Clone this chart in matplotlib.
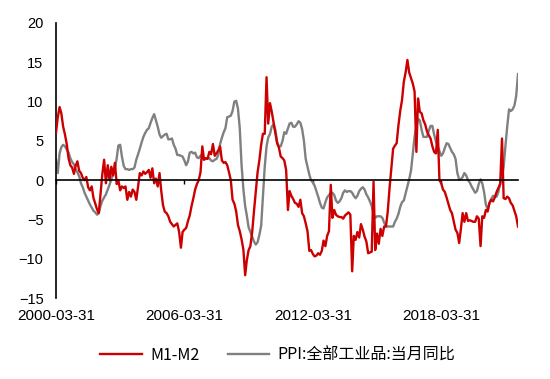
import matplotlib
matplotlib.use("Agg")
import matplotlib.pyplot as plt
import pandas as pd

start_date = "2000-03-31"
n_months = 260

m1_m2 = [
    6.0, 8.0, 9.3, 8.5, 6.8, 5.8, 4.6, 2.8, 1.9, 1.6, 0.8, 1.8,
    2.4, 1.2, 0.9, 0.3, 0.0, 0.4, -0.9, -1.3, -0.8, -2.3, -3.0, -3.7,
    -4.2, -1.8, 0.8, 2.6, -0.4, 1.9, 0.0, 1.7, 0.6, 2.2, -0.5, 0.0,
    -1.3, -0.8, -1.0, -0.8, -2.5, -1.5, -2.1, -1.2, -1.5, -2.5, -0.8, 0.9,
    0.6, 1.1, 0.8, 1.0, 1.3, 0.3, 1.5, -0.4, 0.2, -0.8, 0.9, -1.3,
    -3.2, -4.0, -4.2, -4.6, -5.3, -5.6, -5.9, -5.7, -5.5, -6.6, -8.6, -6.6,
    -6.3, -6.1, -5.2, -4.5, -3.3, -2.3, -1.2, -0.5, 0.0, 1.0, 4.3, 2.6,
    2.8, 2.7, 3.6, 3.3, 4.6, 3.1, 3.4, 3.8, 4.3, 2.5, 2.2, 2.3,
    1.9, 1.0, 0.0, -2.5, -3.0, -4.0, -5.7, -6.5, -7.5, -8.8, -12.1, -10.2,
    -8.9, -8.4, -6.6, -4.0, -1.5, 1.0, 2.5, 4.5, 5.9, 5.9, 13.1, 7.2,
    9.8, 8.7, 7.3, 6.0, 4.7, 4.1, 3.0, 2.8, 2.5, 1.3, -3.8, -1.4,
    -2.0, -2.4, -2.9, -3.0, -3.4, -2.5, -4.2, -4.6, -5.5, -6.5, -9.0, -8.9,
    -9.4, -9.7, -9.6, -9.3, -9.5, -9.0, -7.7, -8.4, -7.1, -6.5, -0.6, -4.8,
    -3.8, -4.4, -4.6, -4.7, -4.7, -4.9, -4.5, -4.3, -4.1, -4.4, -11.6, -7.1,
    -7.6, -6.6, -7.3, -5.6, -6.3, -7.2, -7.8, -9.3, -9.2, -9.1, -0.2, -8.9,
    -6.8, -8.1, -6.2, -7.1, -5.9, -5.9, -4.0, -1.0, 1.5, 4.0, 4.4, 4.7,
    7.0, 8.8, 10.2, 12.5, 13.7, 15.3, 13.7, 13.0, 12.3, 11.3, 3.6, 10.4,
    8.7, 8.5, 7.6, 7.1, 6.2, 5.7, 5.3, 4.3, 3.6, 3.4, 6.4, 0.0,
    -0.4, -1.2, -1.5, -2.2, -3.0, -3.8, -4.2, -5.3, -6.3, -6.7, -8.0, -6.3,
    -4.2, -5.3, -4.2, -5.2, -5.1, -5.2, -5.3, -5.3, -4.6, -4.9, -8.4, -4.6,
    -4.8, -3.8, -4.0, -2.9, -2.5, -2.7, -2.2, -1.5, -1.0, -0.5, 5.3, -2.3,
    -2.4, -2.1, -2.3, -2.9, -3.2, -3.9, -4.6, -5.9,
]

ppi = [
    2.6, 0.9, 3.4, 4.2, 4.5, 4.3, 3.9, 3.5, 2.8, 2.3, 2.0, 1.4,
    1.0, 0.5, -0.4, -0.9, -1.6, -2.1, -2.6, -3.1, -3.5, -3.9, -4.1, -4.4,
    -4.2, -3.3, -2.6, -2.2, -1.8, -1.2, -0.6, 0.1, 0.8, 1.4, 2.8, 4.4,
    4.5, 3.0, 1.8, 1.4, 1.4, 1.3, 1.4, 1.4, 1.6, 2.6, 3.3, 4.0,
    4.8, 5.5, 6.0, 6.4, 6.6, 7.3, 7.9, 8.4, 7.6, 6.8, 5.8, 5.4,
    5.6, 5.8, 5.9, 5.2, 5.2, 5.3, 4.5, 4.0, 3.2, 3.2, 3.1, 3.0,
    2.5, 1.9, 2.4, 3.5, 3.6, 3.4, 3.5, 2.9, 2.8, 3.1, 3.3, 2.6,
    2.7, 2.8, 2.8, 2.5, 2.4, 2.6, 2.7, 3.2, 4.6, 5.4, 6.1, 6.6,
    8.0, 8.1, 8.2, 8.8, 10.0, 10.1, 9.1, 6.6, 2.0, -1.1, -3.3, -4.5,
    -6.0, -6.6, -7.2, -7.8, -8.2, -7.9, -7.0, -5.8, -2.1, 1.7, 4.3, 5.4,
    5.9, 6.8, 7.1, 6.4, 4.8, 4.3, 4.3, 5.0, 6.1, 5.9, 6.6, 7.2,
    7.3, 6.8, 6.8, 7.1, 7.5, 7.3, 6.5, 5.0, 2.7, 1.7, 0.7, 0.0,
    -0.3, -0.7, -1.4, -2.1, -2.9, -3.5, -3.6, -2.8, -2.2, -1.9, -1.6, -1.6,
    -1.9, -2.6, -2.9, -2.7, -2.3, -1.6, -1.3, -1.5, -1.4, -1.4, -1.6, -2.0,
    -2.3, -2.0, -1.4, -1.1, -0.9, -1.2, -1.8, -2.2, -2.7, -3.3, -4.3, -4.8,
    -4.6, -4.6, -4.6, -4.8, -5.4, -5.9, -5.9, -5.9, -5.9, -5.9, -5.3, -4.9,
    -4.3, -3.4, -2.8, -2.6, -1.7, -0.8, 0.1, 1.2, 3.3, 5.5, 6.9, 7.8,
    7.6, 6.4, 5.5, 5.5, 5.5, 6.3, 6.9, 6.9, 5.8, 4.9, 4.3, 3.7,
    3.1, 3.4, 4.1, 4.7, 4.6, 4.1, 3.6, 3.3, 2.7, 0.9, 0.1, 0.1,
    0.4, 0.9, 0.6, 0.0, -0.3, -0.8, -1.2, -1.6, -1.4, -0.5, 0.1, -0.4,
    -1.5, -3.1, -3.7, -3.0, -2.4, -2.0, -2.1, -2.1, -1.5, -0.4, 0.3, 1.7,
    4.4, 6.8, 9.0, 8.8, 9.0, 9.5, 10.7, 13.5,
]

x_tick_labels = ["2000-03-31", "2006-03-31", "2012-03-31", "2018-03-31"]
y_ticks = [-15, -10, -5, 0, 5, 10, 15, 20]
series_names = ["M1-M2", "PPI:全部工业品:当月同比"]

dates = pd.date_range(start_date, periods=n_months, freq="ME")

plt.rcParams["font.family"] = ["Liberation Sans", "DejaVu Sans"]

fig = plt.figure(figsize=(5.5, 3.79), dpi=100)
ax = fig.add_axes([56 / 550, 1 - 298 / 379, (518 - 56) / 550, (298 - 23) / 379])

red = "#CC0000"
gray = "#808080"
l_ppi, = ax.plot(dates, ppi, color=gray, lw=1.7, label=series_names[1], zorder=2)
l_m, = ax.plot(dates, m1_m2, color=red, lw=1.7, label=series_names[0], zorder=3)

ax.set_xlim(dates[0], dates[-1])
ax.set_ylim(-15, 20)
ax.set_yticks(y_ticks)
ax.tick_params(axis="y", length=0, pad=9, labelsize=10.5, colors="black")

for s in ["top", "right"]:
    ax.spines[s].set_visible(False)
ax.spines["left"].set_color("black")
ax.spines["left"].set_linewidth(1.2)
ax.spines["bottom"].set_position(("data", 0))
ax.spines["bottom"].set_color("black")
ax.spines["bottom"].set_linewidth(1.2)
ax.spines["bottom"].set_zorder(4)

ax.set_xticks(pd.to_datetime(x_tick_labels))
ax.set_xticklabels(x_tick_labels)
ax.tick_params(axis="x", direction="out", length=3, width=1, pad=90, labelsize=11, colors="black")

leg = fig.legend(handles=[l_m, l_ppi], labels=series_names, loc="center",
                 bbox_to_anchor=(0.505, 0.063), ncol=2, frameon=False,
                 prop={"family": ["Noto Sans CJK SC", "DejaVu Sans"], "size": 11.5},
                 handlelength=2.6, columnspacing=1.8, handletextpad=0.5)

fig.savefig("out.png", dpi=100)
